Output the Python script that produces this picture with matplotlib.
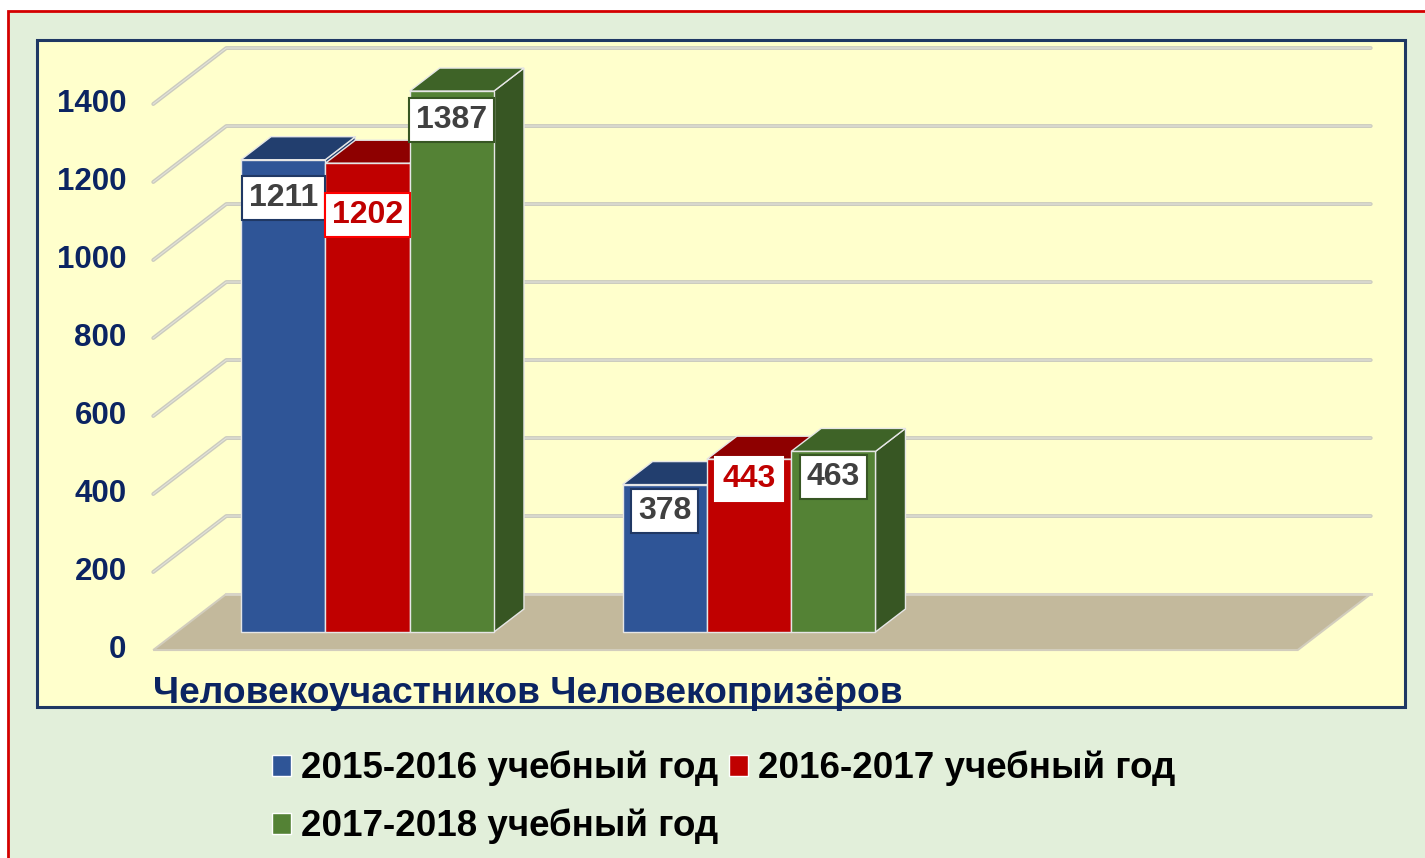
import matplotlib
matplotlib.use("Agg")
import matplotlib.pyplot as plt
from matplotlib.patches import Polygon, Rectangle, Patch

plt.rcParams['font.family'] = ['Liberation Sans', 'DejaVu Sans']
plt.rcParams['font.weight'] = 'bold'

# данные
categories = ["Человекоучастников", "Человекопризёров"]
series_names = ["2015-2016 учебный год", "2016-2017 учебный год", "2017-2018 учебный год"]
values = [
    [1211, 378],   # 2015-2016
    [1202, 443],   # 2016-2017
    [1387, 463],   # 2017-2018
]
yticks = [0, 200, 400, 600, 800, 1000, 1200, 1400]

# цвета: лицевая грань, верх, бок, рамка подписи, текст подписи
front_colors = ['#2f5597', '#c00000', '#548235']
top_colors = ['#223e6e', '#8e0000', '#3e6327']
side_colors = ['#223e6e', '#8e0000', '#375623']
box_edges = ['#203864', '#ff0000', '#375623']
label_colors = ['#404040', '#c00000', '#404040']
navy = '#0b2462'

# разметка в пикселях
W, H = 1425, 858
X0_PX, CAT_PX = 367.5, 381.5      # центр категории 0 и шаг категорий
Y0_PX, VAL_PX = 632.0, 0.39       # ноль на плоскости столбцов, px на единицу
SLOPE = 0.767                     # наклон глубины
FRONT, BACK, BAR_DEPTH = -23.5, 49.5, 30.0
BAR_W = 0.221
N_SLOTS = 3                       # ширина пола в категориях
# смещения подписей ниже вершины (в единицах значений)
label_drop = [[98, 68], [133, 51], [74, 66]]


def depth(d):
    return d / CAT_PX, SLOPE * d / VAL_PX


fig = plt.figure(figsize=(W / 100, H / 100), dpi=100)
fig.patch.set_facecolor('white')
fig.add_artist(Rectangle((8 / W, -0.01), 1.02, 1 - 11 / H + 0.01, transform=fig.transFigure,
                         facecolor='#e2efda', edgecolor='#d40000', lw=2, zorder=-3))
fig.add_artist(Rectangle((37 / W, 1 - 707 / H), 1368 / W, 667 / H, transform=fig.transFigure,
                         facecolor='#ffffcc', edgecolor='#1f3864', lw=2.2, zorder=-2))

ax = fig.add_axes([0, 0, 1, 1])
ax.set_facecolor('none')
ax.axis('off')
ax.set_xlim(-X0_PX / CAT_PX, (W - X0_PX) / CAT_PX)
ax.set_ylim((Y0_PX - H) / VAL_PX, Y0_PX / VAL_PX)

fx, fy = depth(FRONT)
bx, by = depth(BACK)
left, right = -0.5, N_SLOTS - 0.5

# пол
ax.add_patch(Polygon([(left + fx, fy), (right + fx, fy), (right + bx, by), (left + bx, by)],
                     closed=True, facecolor='#c3b99c', edgecolor='#d2cdbd', lw=1.5, zorder=1))
ax.plot([left + bx, right + bx], [by, by], color='#d8d4c8', lw=2, zorder=1)

# сетка
for v in yticks[1:]:
    ax.plot([left + fx, left + bx, right + bx], [v + fy, v + by, v + by],
            color='#cbcbbe', lw=2.8, solid_capstyle='round', zorder=1)
    ax.plot([left + fx, left + bx, right + bx], [v + fy, v + by, v + by],
            color='#e2e2da', lw=0.8, zorder=1)

for v in yticks:
    ax.text(left + fx - 0.07, v + fy, str(v), ha='right', va='center',
            fontsize=22.5, color=navy, fontweight='bold')

# столбцы
dx, dy = depth(BAR_DEPTH)
n = len(values)
for g in range(len(categories)):
    xs = [g + (i - (n - 1) / 2) * BAR_W for i in range(n)]
    # боковые грани
    for i in range(n):
        x1 = xs[i] + BAR_W / 2
        h = values[i][g]
        ax.add_patch(Polygon([(x1, 0), (x1 + dx, dy), (x1 + dx, h + dy), (x1, h)],
                             facecolor=side_colors[i], edgecolor='#e6e6e6', lw=1, zorder=2))
    # верхние грани, от низких к высоким
    for i in sorted(range(n), key=lambda k: values[k][g]):
        x0, x1 = xs[i] - BAR_W / 2, xs[i] + BAR_W / 2
        h = values[i][g]
        ax.add_patch(Polygon([(x0, h), (x1, h), (x1 + dx, h + dy), (x0 + dx, h + dy)],
                             facecolor=top_colors[i], edgecolor='#e6e6e6', lw=1, zorder=3))
    # лицевые грани
    for i in range(n):
        ax.bar(xs[i], values[i][g], width=BAR_W, bottom=0, color=front_colors[i],
               edgecolor='#e6e6e6', lw=1, zorder=4)
    # подписи
    for i in range(n):
        h = values[i][g]
        edge = box_edges[i] if not (i == 1 and g == 1) else 'white'
        ax.text(xs[i], h - label_drop[i][g], str(h), ha='center', va='center',
                fontsize=23, fontweight='bold', color=label_colors[i], zorder=6,
                bbox=dict(boxstyle='square,pad=0.22', facecolor='white',
                          edgecolor=edge, lw=1.5))

# подписи категорий
ax.text(left + fx, (Y0_PX - 703) / VAL_PX, " ".join(categories), ha='left', va='baseline',
        fontsize=26.7, fontweight='bold', color=navy, zorder=6)

# легенда
handles = [Patch(facecolor=c, edgecolor='white', lw=1) for c in front_colors]
order = [0, 2, 1]
fig.legend([handles[k] for k in order], [series_names[k] for k in order],
           ncol=2, loc='center left', bbox_to_anchor=(254 / W, 1 - 797.5 / H),
           frameon=False, prop={'weight': 'bold', 'size': 26.5},
           handlelength=0.5, handleheight=0.5, handletextpad=0.28,
           columnspacing=0.3, labelspacing=0.6, borderpad=0)

fig.savefig('out.png', dpi=100, facecolor=fig.get_facecolor())
